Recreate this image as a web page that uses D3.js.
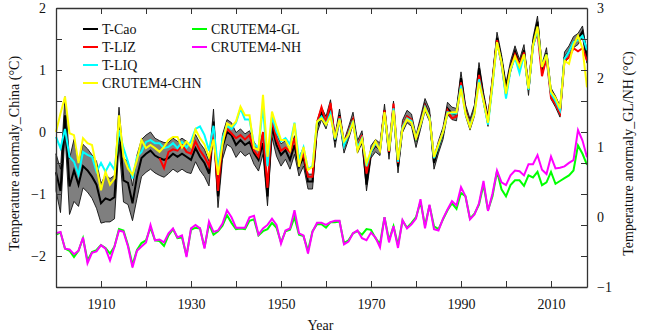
<!DOCTYPE html>
<html><head><meta charset="utf-8">
<script src="https://cdn.jsdelivr.net/npm/d3@7"></script>
<style>body{margin:0;background:#fff}svg{display:block}</style>
</head><body>
<svg id="chart" width="648" height="335"></svg>
<script>
const years = d3.range(1900, 2019);
const xTickValues = [1910,1920,1930,1940,1950,1960,1970,1980,1990,2000,2010];
const xTickLabels = [1910,1930,1950,1970,1990,2010];
const leftTickValues = [-2.5,-2,-1.5,-1,-0.5,0,0.5,1,1.5,2];
const leftTickLabels = [-2,-1,0,1,2];
const rightTickLabels = [-1,0,1,2,3];

const tCao = [
-0.65,-0.95,0.27,-0.88,-0.62,-0.85,-0.55,-0.62,-0.72,-0.85,
-1.15,-1.07,-1.10,-1.05,0.10,-0.78,-0.82,-1.15,-0.72,-0.42,
-0.35,-0.30,-0.38,-0.42,-0.45,-0.42,-0.35,-0.40,-0.35,-0.40,
-0.45,-0.26,-0.40,-0.50,-0.67,0.17,-1.04,-0.24,0.00,-0.05,
-0.21,-0.13,-0.21,-0.16,-0.34,-0.45,-0.18,-1.04,0.09,-0.21,
-0.37,-0.29,-0.45,-0.21,-0.56,-0.40,-0.80,-0.80,0.08,0.30,
0.15,0.42,-0.15,0.27,-0.24,-0.02,0.22,-0.24,-0.08,-0.85,
-0.32,-0.22,-0.28,0.35,-0.34,0.40,-0.56,0.09,0.25,0.19,
-0.15,0.14,0.44,0.27,-0.50,-0.24,-0.02,0.38,0.30,0.28,
0.87,0.35,0.12,0.35,1.03,0.55,0.18,0.82,1.52,1.16,
0.70,1.05,1.30,1.08,1.32,0.68,1.43,1.78,1.00,1.27,
0.62,0.49,0.33,1.20,1.30,1.45,1.50,1.62,1.20];

const tCaoErr = [
0.30,0.35,0.30,0.45,0.50,0.35,0.35,0.35,0.35,0.38,
0.32,0.38,0.35,0.35,0.30,0.35,0.35,0.28,0.35,0.30,
0.30,0.30,0.28,0.28,0.28,0.25,0.25,0.25,0.25,0.25,
0.22,0.22,0.22,0.22,0.20,0.20,0.18,0.20,0.20,0.20,
0.20,0.18,0.18,0.18,0.18,0.18,0.18,0.15,0.18,0.18,
0.18,0.15,0.15,0.15,0.15,0.15,0.12,0.12,0.10,0.10,
0.10,0.10,0.10,0.10,0.10,0.10,0.10,0.10,0.10,0.10,
0.10,0.10,0.10,0.10,0.10,0.10,0.10,0.10,0.10,0.10,
0.10,0.10,0.10,0.10,0.10,0.10,0.10,0.10,0.10,0.10,
0.10,0.09,0.09,0.09,0.09,0.09,0.09,0.09,0.09,0.09,
0.09,0.09,0.09,0.09,0.09,0.09,0.09,0.09,0.09,0.09,
0.09,0.09,0.09,0.09,0.09,0.09,0.09,0.09,0.09];

const tLIZ = [
null,null,null,null,null,null,null,null,null,null,
null,null,null,null,null,null,null,null,null,null,
null,null,null,-0.42,-0.58,-0.32,-0.28,-0.30,-0.20,-0.32,
-0.35,-0.15,-0.30,-0.40,-0.55,0.05,-0.95,-0.15,0.05,-0.02,
-0.10,-0.05,-0.12,-0.05,-0.30,-0.40,0.00,-0.90,0.20,-0.12,
-0.30,-0.25,-0.32,-0.10,-0.50,-0.35,-0.72,-0.72,0.15,0.40,
0.15,0.47,-0.12,0.25,-0.20,0.00,0.20,-0.25,-0.05,-0.67,
-0.30,-0.20,-0.27,0.35,-0.32,0.46,-0.50,0.10,0.25,0.20,
-0.12,0.14,0.42,0.25,-0.42,-0.20,0.00,0.35,0.22,0.25,
0.80,0.33,0.12,0.33,0.92,0.52,0.18,0.80,1.48,1.10,
0.60,1.02,1.25,1.08,1.28,0.70,1.40,1.60,0.90,1.20,
0.55,0.45,0.30,1.15,1.20,1.35,1.30,1.35,1.15];

const tLIQ = [
-0.08,-0.26,0.05,-0.40,-0.48,-0.69,-0.32,-0.37,-0.40,-0.64,
-0.50,-0.64,-0.50,-0.61,0.03,-0.26,-0.48,-0.75,-0.40,-0.32,
-0.16,-0.13,-0.18,-0.18,-0.26,-0.24,-0.18,-0.26,-0.16,-0.25,
-0.15,0.05,0.09,-0.05,-0.30,0.10,-0.60,-0.10,0.10,0.05,
0.15,0.38,0.20,0.20,-0.20,-0.25,0.41,-0.55,0.25,0.00,
-0.15,-0.10,-0.20,0.15,-0.45,-0.25,-0.60,-0.55,0.15,0.25,
0.12,0.30,-0.12,0.22,-0.22,-0.03,0.18,-0.25,-0.10,-0.55,
-0.32,-0.18,-0.28,0.30,-0.30,0.38,-0.48,0.08,0.22,0.18,
-0.10,0.12,0.40,0.24,-0.42,-0.22,0.00,0.32,0.30,0.30,
0.75,0.30,0.10,0.32,0.85,0.50,0.12,0.75,1.45,1.12,
0.54,1.00,1.20,0.95,1.25,0.68,1.38,1.65,1.05,1.25,
0.62,0.50,0.35,1.18,1.30,1.45,1.48,1.55,1.32];

const crutemCHN = [
0.00,0.30,0.57,-0.02,-0.05,-0.50,-0.10,-0.18,-0.21,-0.56,
-0.94,-0.64,-0.85,-0.75,0.27,-0.40,-0.59,-0.69,-0.45,-0.13,
-0.26,-0.21,-0.26,-0.32,-0.24,-0.13,-0.08,-0.08,-0.25,-0.15,
-0.24,0.04,-0.10,-0.20,-0.40,-0.12,-0.69,-0.20,0.14,0.09,
0.17,0.41,0.27,0.27,-0.26,-0.29,0.60,-0.40,0.33,0.09,
-0.13,-0.13,-0.29,0.14,-0.56,-0.24,-0.61,-0.56,0.17,0.22,
0.12,0.25,-0.10,0.20,-0.15,-0.05,0.15,-0.30,-0.12,-0.50,
-0.30,-0.15,-0.30,0.32,-0.30,0.35,-0.45,0.05,0.20,0.15,
-0.10,0.12,0.38,0.22,-0.40,-0.20,0.00,0.30,0.32,0.32,
0.70,0.30,0.08,0.30,0.80,0.50,0.15,0.78,1.45,1.13,
0.62,1.02,1.22,1.05,1.25,0.70,1.40,1.70,1.05,1.25,
0.65,0.55,0.38,1.15,1.10,1.40,1.55,1.35,0.72];

const crutemGL = [
-0.25,-0.22,-0.45,-0.48,-0.57,-0.48,-0.30,-0.62,-0.50,-0.47,
-0.40,-0.44,-0.52,-0.42,-0.17,-0.19,-0.40,-0.68,-0.47,-0.37,
-0.33,-0.15,-0.33,-0.34,-0.41,-0.26,-0.17,-0.30,-0.29,-0.55,
-0.18,-0.15,-0.16,-0.43,-0.10,-0.25,-0.20,-0.12,0.03,-0.08,
-0.17,-0.16,-0.17,-0.05,-0.03,-0.26,-0.20,-0.17,-0.08,-0.15,
-0.36,-0.20,-0.18,0.00,-0.25,-0.27,-0.48,-0.20,-0.10,-0.10,
-0.15,-0.07,-0.07,-0.06,-0.37,-0.33,-0.23,-0.20,-0.25,-0.17,
-0.18,-0.30,-0.38,0.00,-0.33,-0.13,-0.40,-0.05,-0.15,-0.08,
0.00,0.22,-0.12,0.17,-0.13,-0.17,-0.03,0.10,0.20,0.12,
0.35,0.30,-0.02,0.05,0.18,0.47,0.10,0.30,0.66,0.40,
0.30,0.46,0.53,0.53,0.45,0.60,0.57,0.65,0.46,0.50,
0.65,0.48,0.52,0.56,0.60,0.67,1.03,0.91,0.75];

const crutemNH = [
-0.23,-0.21,-0.45,-0.46,-0.53,-0.48,-0.29,-0.66,-0.51,-0.49,
-0.40,-0.45,-0.62,-0.42,-0.19,-0.21,-0.42,-0.72,-0.48,-0.42,
-0.36,-0.11,-0.33,-0.32,-0.36,-0.23,-0.16,-0.29,-0.26,-0.57,
-0.16,-0.11,-0.16,-0.45,-0.06,-0.21,-0.19,-0.09,0.10,0.00,
-0.15,-0.15,-0.15,0.00,0.02,-0.25,-0.16,-0.11,-0.02,-0.11,
-0.38,-0.19,-0.16,0.10,-0.23,-0.26,-0.52,-0.21,-0.08,-0.08,
-0.11,-0.07,-0.05,-0.05,-0.39,-0.35,-0.23,-0.19,-0.30,-0.33,
-0.22,-0.29,-0.43,0.00,-0.36,-0.13,-0.44,-0.04,-0.16,-0.10,
-0.02,0.26,-0.16,0.18,-0.17,-0.19,-0.02,0.11,0.23,0.17,
0.43,0.30,-0.03,0.04,0.20,0.52,0.09,0.34,0.67,0.50,
0.46,0.60,0.67,0.66,0.60,0.76,0.76,0.89,0.68,0.62,
0.87,0.70,0.71,0.73,0.78,0.82,1.25,1.10,0.86];

const FONT = "'Liberation Serif','Times New Roman',serif";
const svg = d3.select("#chart");
const mL = 56, mR = 587, mT = 8, mB = 287;
const x = d3.scaleLinear().domain([1900, 2018]).range([mL, mR]);
const yL = d3.scaleLinear().domain([-2.5, 2]).range([mB, mT]);
const yR = d3.scaleLinear().domain([-1, 3]).range([mB, mT]);

// band
const band = d3.area()
  .x((d,i) => x(years[i]))
  .y0((d,i) => yL(tCao[i] - tCaoErr[i]))
  .y1((d,i) => yL(tCao[i] + tCaoErr[i]));
svg.append("path").datum(tCao).attr("d", band)
  .attr("fill", "#7f7f7f").attr("stroke", "#111").attr("stroke-width", 0.9);

function lineOf(scale) {
  return d3.line().defined(d => d != null)
    .x((d,i) => x(years[i])).y(d => scale(d));
}
const series = [
  {name:"T-Cao", data:tCao, color:"#000000", scale:yL},
  {name:"T-LIZ", data:tLIZ, color:"#ff0000", scale:yL},
  {name:"T-LIQ", data:tLIQ, color:"#00ffff", scale:yL},
  {name:"CRUTEM4-CHN", data:crutemCHN, color:"#ffff00", scale:yL},
  {name:"CRUTEM4-GL", data:crutemGL, color:"#00ff00", scale:yR},
  {name:"CRUTEM4-NH", data:crutemNH, color:"#ff00ff", scale:yR}
];
series.forEach(s => {
  svg.append("path").datum(s.data).attr("d", lineOf(s.scale))
    .attr("fill", "none").attr("stroke", s.color).attr("stroke-width", 2)
    .attr("stroke-linejoin", "miter");
});

// axes
const axisColor = "#333";
function styleAxis(g) {
  g.selectAll("path.domain").attr("stroke", axisColor).attr("stroke-width", 1.3);
  g.selectAll(".tick line").attr("stroke", axisColor).attr("stroke-width", 1);
  g.selectAll("text").attr("font-family", FONT).attr("font-size", 14).attr("fill", "#111");
}
const fmtMinus = d => (d < 0 ? "\u2212" + Math.abs(d) : String(d));

const gB = svg.append("g").attr("transform", `translate(0,${mB})`)
  .call(d3.axisBottom(x).tickValues(xTickValues).tickSize(-6).tickSizeOuter(0).tickPadding(12)
    .tickFormat(d => xTickLabels.includes(d) ? String(d) : ""));
styleAxis(gB);
const gT = svg.append("g").attr("transform", `translate(0,${mT})`)
  .call(d3.axisTop(x).tickValues(xTickValues).tickSize(-6).tickSizeOuter(0).tickFormat(""));
styleAxis(gT);
const gL = svg.append("g").attr("transform", `translate(${mL},0)`)
  .call(d3.axisLeft(yL).tickValues(leftTickValues).tickSize(-6).tickSizeOuter(0).tickPadding(10)
    .tickFormat(d => leftTickLabels.includes(d) ? fmtMinus(d) : ""));
styleAxis(gL);
const gR = svg.append("g").attr("transform", `translate(${mR},0)`)
  .call(d3.axisRight(yL).tickValues(leftTickValues).tickSize(-6).tickSizeOuter(0).tickFormat(""));
styleAxis(gR);
const gR2 = svg.append("g").attr("transform", `translate(${mR},0)`)
  .call(d3.axisRight(yR).tickValues(rightTickLabels).tickSize(0).tickPadding(10).tickFormat(fmtMinus));
gR2.select("path.domain").remove();
styleAxis(gR2);

// titles
svg.append("text").attr("x", (mL+mR)/2 - 1).attr("y", 330).attr("text-anchor", "middle")
  .attr("font-family", FONT).attr("font-size", 14).attr("fill", "#111").text("Year");
svg.append("text").attr("transform", `translate(19,${(mT+mB)/2 + 6}) rotate(-90)`)
  .attr("text-anchor", "middle").attr("font-family", FONT).attr("font-size", 14).attr("fill", "#111")
  .text("Temperature anormaly_China (\u00B0C)");
svg.append("text").attr("transform", `translate(633,${(mT+mB)/2 + 6}) rotate(-90)`)
  .attr("text-anchor", "middle").attr("font-family", FONT).attr("font-size", 14).attr("fill", "#111")
  .text("Temperature anormaly_GL/NH (\u00B0C)");

// legend
const legendPos = [
  {lx:83, ly:29}, {lx:83, ly:47}, {lx:83, ly:65}, {lx:83, ly:83},
  {lx:192, ly:29}, {lx:192, ly:47}
];
series.forEach((s, i) => {
  const p = legendPos[i];
  svg.append("line").attr("x1", p.lx).attr("x2", p.lx + 15).attr("y1", p.ly).attr("y2", p.ly)
    .attr("stroke", s.color).attr("stroke-width", 2);
  svg.append("text").attr("x", p.lx + 19).attr("y", p.ly + 5)
    .attr("font-family", FONT).attr("font-size", 14).attr("fill", "#111").text(s.name);
});
</script>
</body></html>
